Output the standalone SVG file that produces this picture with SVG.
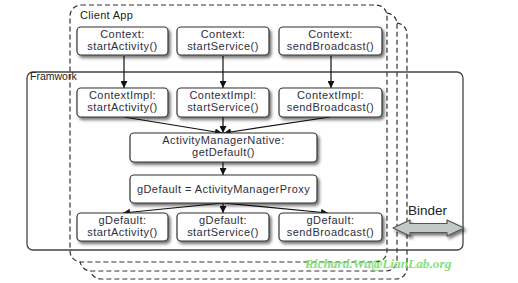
<svg xmlns="http://www.w3.org/2000/svg" width="518" height="283" viewBox="0 0 518 283">
  <defs>
    <filter id="shadow" x="-10%" y="-20%" width="125%" height="150%">
      <feDropShadow dx="2" dy="2.5" stdDeviation="1.6" flood-color="#000" flood-opacity="0.55"/>
    </filter>
    <marker id="arrow" viewBox="0 0 10 10" refX="10" refY="5" markerWidth="7" markerHeight="7" markerUnits="userSpaceOnUse" orient="auto">
      <path d="M0,0 L10,5 L0,10 z" fill="#111"/>
    </marker>
    <style>
      .layer { fill: #fff; stroke: #333; stroke-width: 1.2; stroke-dasharray: 5 3; }
      .frame { fill: none; stroke: #444; stroke-width: 1.3; }
      .node rect { fill: #fff; stroke: #333; stroke-width: 1.2; filter: url(#shadow); }
      .node text { font-family: "Liberation Sans", Arial, sans-serif; font-size: 11px; letter-spacing: 0.45px; fill: #2e2e3e; text-anchor: middle; }
      .label { font-family: "Liberation Sans", Arial, sans-serif; fill: #222; }
      .edge { stroke: #111; stroke-width: 1.2; fill: none; marker-end: url(#arrow); }
    </style>
  </defs>

  <rect width="518" height="283" fill="#fff"/>

  <!-- stacked client application layers, back to front -->
  <rect class="layer" x="90" y="23" width="317" height="256" rx="11"/>
  <rect class="layer" x="80" y="13" width="317" height="258" rx="11"/>
  <rect class="layer" x="70" y="5" width="317" height="257" rx="11"/>
  <text class="label" x="80" y="19" font-size="11" letter-spacing="0.3">Client App</text>

  <!-- framework boundary -->
  <rect class="frame" x="27" y="72" width="436" height="178" rx="6"/>
  <text class="label" x="30" y="80" font-size="10.5">Framwork</text>

  <!-- connectors -->
  <g id="connectors">
    <line class="edge" x1="124" y1="56" x2="124" y2="88"/>
    <line class="edge" x1="223" y1="56" x2="223" y2="88"/>
    <line class="edge" x1="331" y1="56" x2="331" y2="88"/>
    <line class="edge" x1="124" y1="117" x2="222" y2="133"/>
    <line class="edge" x1="223" y1="117" x2="223" y2="133"/>
    <line class="edge" x1="330" y1="117" x2="224" y2="133"/>
    <line class="edge" x1="223" y1="162" x2="223" y2="175"/>
    <line class="edge" x1="223" y1="203" x2="123" y2="213"/>
    <line class="edge" x1="223" y1="203" x2="223" y2="213"/>
    <line class="edge" x1="223" y1="203" x2="328" y2="213"/>
  </g>

  <!-- client calls -->
  <g id="ctx-activity" class="node">
    <rect x="77" y="27" width="91" height="28" rx="4"/>
    <text x="122.5" y="37.5">Context:</text>
    <text x="122.5" y="50">startActivity()</text>
  </g>
  <g id="ctx-service" class="node">
    <rect x="177" y="27" width="92" height="28" rx="4"/>
    <text x="223" y="37.5">Context:</text>
    <text x="223" y="50">startService()</text>
  </g>
  <g id="ctx-broadcast" class="node">
    <rect x="279" y="27" width="103" height="28" rx="4"/>
    <text x="330.5" y="37.5">Context:</text>
    <text x="330.5" y="50">sendBroadcast()</text>
  </g>

  <!-- ContextImpl layer -->
  <g id="impl-activity" class="node">
    <rect x="77" y="88" width="91" height="29" rx="4"/>
    <text x="122.5" y="98.5">ContextImpl:</text>
    <text x="122.5" y="111">startActivity()</text>
  </g>
  <g id="impl-service" class="node">
    <rect x="177" y="88" width="92" height="29" rx="4"/>
    <text x="223" y="98.5">ContextImpl:</text>
    <text x="223" y="111">startService()</text>
  </g>
  <g id="impl-broadcast" class="node">
    <rect x="279" y="88" width="103" height="29" rx="4"/>
    <text x="330.5" y="98.5">ContextImpl:</text>
    <text x="330.5" y="111">sendBroadcast()</text>
  </g>

  <g id="am-native" class="node">
    <rect x="130" y="133" width="187" height="29" rx="4"/>
    <text x="223.5" y="143.5">ActivityManagerNative:</text>
    <text x="223.5" y="156">getDefault()</text>
  </g>

  <g id="am-proxy" class="node">
    <rect x="130" y="175" width="187" height="28" rx="4"/>
    <text x="223.5" y="193">gDefault = ActivityManagerProxy</text>
  </g>

  <!-- proxy calls -->
  <g id="gd-activity" class="node">
    <rect x="77" y="213" width="91" height="28" rx="4"/>
    <text x="122.5" y="223.5">gDefault:</text>
    <text x="122.5" y="236">startActivity()</text>
  </g>
  <g id="gd-service" class="node">
    <rect x="177" y="213" width="92" height="28" rx="4"/>
    <text x="223" y="223.5">gDefault:</text>
    <text x="223" y="236">startService()</text>
  </g>
  <g id="gd-broadcast" class="node">
    <rect x="279" y="213" width="103" height="28" rx="4"/>
    <text x="330.5" y="223.5">gDefault:</text>
    <text x="330.5" y="236">sendBroadcast()</text>
  </g>

  <!-- Binder double arrow -->
  <g id="binder">
    <polygon points="393,228 410,220 410,223.5 447,223.5 447,220 464,228 447,236 447,232.5 410,232.5 410,236" fill="#c3c8c8" stroke="#555" stroke-width="1.2" stroke-linejoin="round" filter="url(#shadow)"/>
    <text class="label" x="408" y="215" font-size="13.5">Binder</text>
  </g>

  <text x="305" y="268" font-family="'Liberation Serif', 'Times New Roman', serif" font-size="13.3" font-style="italic" font-weight="bold" fill="#86e07a">Richard.Wu@LianLab.org</text>
</svg>
